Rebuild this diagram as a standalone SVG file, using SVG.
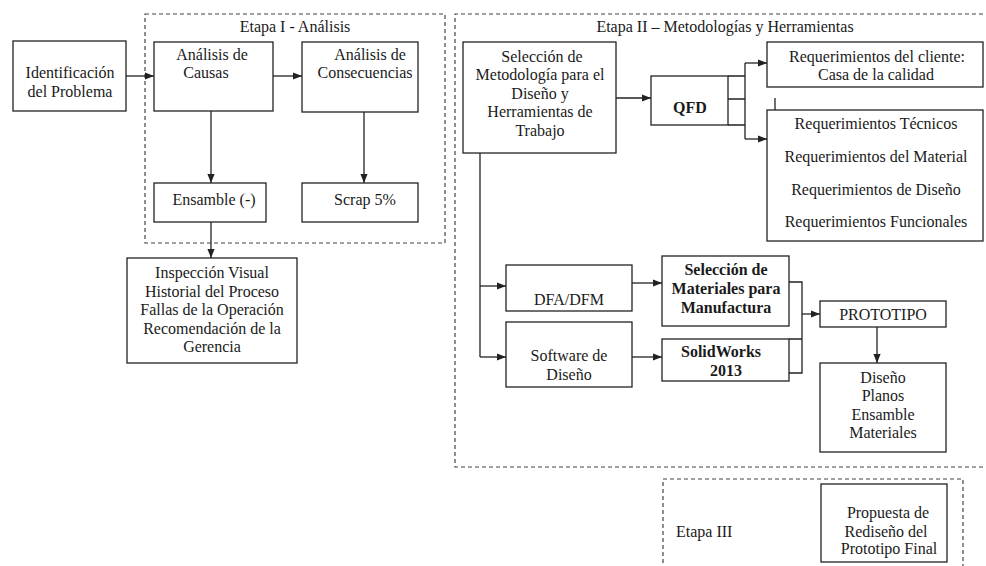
<svg xmlns="http://www.w3.org/2000/svg" width="986" height="566" viewBox="0 0 986 566">
<style>
  .box{fill:#fff;stroke:#222;stroke-width:1.3}
  .stage{fill:none;stroke:#444;stroke-width:1.2;stroke-dasharray:4 3}
  .t{font-family:"Liberation Serif","Times New Roman",serif;font-size:16px;fill:#1a1a1a;text-anchor:middle}
  .b{font-weight:bold}
  .ln{fill:none;stroke:#222;stroke-width:1.3}
  .ar{fill:none;stroke:#222;stroke-width:1.3;marker-end:url(#ah)}
</style>
<defs>
  <marker id="ah" viewBox="0 0 10 10" refX="10" refY="5" markerWidth="9" markerHeight="9" markerUnits="userSpaceOnUse" orient="auto">
    <path d="M0,1 L10,5 L0,9 z" fill="#222"/>
  </marker>
</defs>
<rect width="986" height="566" fill="#fff"/>

<g id="etapa1">
  <rect class="stage" x="145" y="14" width="300" height="229"/>
  <text class="t" x="295" y="32">Etapa I - Análisis</text>
</g>
<g id="etapa2">
  <path class="stage" d="M990,14 H455 V467 H990"/>
  <text class="t" x="725" y="32">Etapa II – Metodologías y Herramientas</text>
</g>
<g id="etapa3">
  <path class="stage" d="M663,570 V479 H963 V570"/>
  <text class="t" x="676" y="537" style="text-anchor:start">Etapa III</text>
</g>

<g id="connectors">
  <path class="ar" d="M126,76 H154"/>
  <path class="ar" d="M273,76 H302"/>
  <path class="ar" d="M211,111 V183"/>
  <path class="ar" d="M364,112 V183"/>
  <path class="ar" d="M211,222 V258"/>
  <path class="ar" d="M616,98 H651"/>
  <path class="ln" d="M728,76 H745 M728,99 H745 M728,125 H745 M745,63 V139"/>
  <path class="ar" d="M745,63 H767"/>
  <path class="ar" d="M745,139 H767"/>
  <path class="ln" d="M775,98 V113"/>
  <path class="ln" d="M480,153 V357"/>
  <path class="ar" d="M480,286 H506"/>
  <path class="ar" d="M480,357 H506"/>
  <path class="ar" d="M632,283 H662"/>
  <path class="ar" d="M632,357 H662"/>
  <path class="ln" d="M789,282 H802 V373 H789 M789,339 H802"/>
  <path class="ar" d="M802,314 H820"/>
  <path class="ar" d="M877,327 V363"/>
</g>

<g id="identificacion">
  <rect class="box" x="13" y="41" width="113" height="70"/>
  <text class="t" x="70" y="78">Identificación</text>
  <text class="t" x="70" y="97">del Problema</text>
</g>
<g id="causas">
  <rect class="box" x="154" y="42" width="119" height="69"/>
  <text class="t" x="212" y="60">Análisis de</text>
  <text class="t" x="206" y="78">Causas</text>
</g>
<g id="consecuencias">
  <rect class="box" x="302" y="42" width="116" height="70"/>
  <text class="t" x="370" y="60">Análisis de</text>
  <text class="t" x="365" y="78">Consecuencias</text>
</g>
<g id="ensamble">
  <rect class="box" x="154" y="183" width="112" height="39"/>
  <text class="t" x="214" y="205">Ensamble (-)</text>
</g>
<g id="scrap">
  <rect class="box" x="302" y="183" width="116" height="39"/>
  <text class="t" x="365" y="205">Scrap 5%</text>
</g>
<g id="inspeccion">
  <rect class="box" x="127" y="258" width="170" height="105"/>
  <text class="t" x="212" y="278">Inspección Visual</text>
  <text class="t" x="212" y="297">Historial del Proceso</text>
  <text class="t" x="212" y="315">Fallas de la Operación</text>
  <text class="t" x="212" y="334">Recomendación de la</text>
  <text class="t" x="212" y="352">Gerencia</text>
</g>

<g id="seleccion">
  <rect class="box" x="463" y="42" width="153" height="111"/>
  <text class="t" x="542" y="62">Selección de</text>
  <text class="t" x="540" y="80">Metodología para el</text>
  <text class="t" x="540" y="99">Diseño y</text>
  <text class="t" x="540" y="117">Herramientas de</text>
  <text class="t" x="540" y="136">Trabajo</text>
</g>
<g id="qfd">
  <rect class="box" x="651" y="76" width="77" height="49"/>
  <text class="t b" x="690" y="113">QFD</text>
</g>
<g id="req-cliente">
  <rect class="box" x="767" y="42" width="216" height="45"/>
  <text class="t" x="877" y="62">Requerimientos del cliente:</text>
  <text class="t" x="876" y="80">Casa de la calidad</text>
</g>
<g id="req-tecnicos">
  <rect class="box" x="767" y="110" width="216" height="131"/>
  <text class="t" x="876" y="129">Requerimientos Técnicos</text>
  <text class="t" x="876" y="162">Requerimientos del Material</text>
  <text class="t" x="876" y="195">Requerimientos de Diseño</text>
  <text class="t" x="876" y="227">Requerimientos Funcionales</text>
</g>
<g id="dfa">
  <rect class="box" x="506" y="265" width="126" height="46"/>
  <text class="t" x="569" y="305">DFA/DFM</text>
</g>
<g id="software">
  <rect class="box" x="506" y="322" width="126" height="65"/>
  <text class="t" x="569" y="361">Software de</text>
  <text class="t" x="569" y="380">Diseño</text>
</g>
<g id="materiales">
  <rect class="box" x="662" y="256" width="127" height="70"/>
  <text class="t b" x="726" y="275">Selección de</text>
  <text class="t b" x="726" y="294">Materiales para</text>
  <text class="t b" x="726" y="313">Manufactura</text>
</g>
<g id="solidworks">
  <rect class="box" x="662" y="339" width="127" height="42"/>
  <text class="t b" x="721" y="357">SolidWorks</text>
  <text class="t b" x="726" y="376">2013</text>
</g>
<g id="prototipo">
  <rect class="box" x="820" y="301" width="126" height="26"/>
  <text class="t" x="883" y="320">PROTOTIPO</text>
</g>
<g id="diseno">
  <rect class="box" x="820" y="363" width="126" height="89"/>
  <text class="t" x="883" y="383">Diseño</text>
  <text class="t" x="883" y="401">Planos</text>
  <text class="t" x="883" y="420">Ensamble</text>
  <text class="t" x="883" y="438">Materiales</text>
</g>
<g id="propuesta">
  <rect class="box" x="821" y="484" width="126" height="78"/>
  <text class="t" x="888" y="518">Propuesta de</text>
  <text class="t" x="886" y="537">Rediseño del</text>
  <text class="t" x="889" y="554">Prototipo Final</text>
</g>
</svg>
